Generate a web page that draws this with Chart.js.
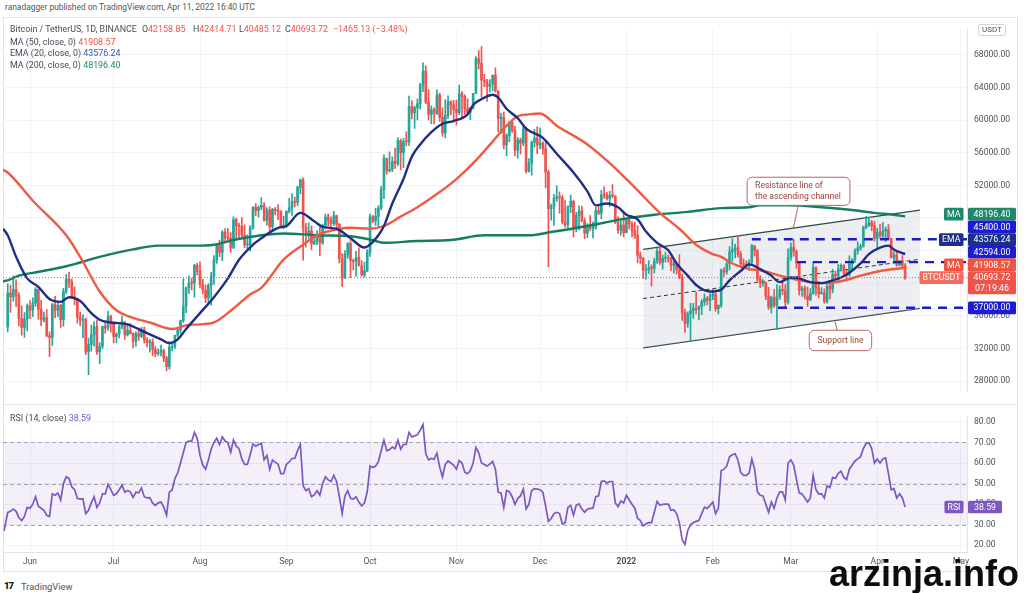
<!DOCTYPE html>
<html>
<head>
<meta charset="utf-8">
<script src="https://cdn.jsdelivr.net/npm/chart.js@4.4.1/dist/chart.umd.min.js"></script>
<style>
  html, body { margin: 0; padding: 0; background: #fff; }
  body { width: 1024px; height: 593px; position: relative; overflow: hidden; font-family: Roboto, "Noto Sans", sans-serif; }
  canvas { position: absolute; left: 3px; }
  #price { top: 17px; }
  #rsi { top: 404px; }
  .t { position: absolute; white-space: nowrap; font-size: 8.9px; line-height: 1; color: #484c57; z-index: 5; }
  .frame { position: absolute; left: 3px; top: 17px; width: 1015px; height: 555px; border: 1px solid #e0e3eb; box-sizing: border-box; }
  .sep { position: absolute; left: 3px; top: 404px; width: 1015px; height: 1px; background: #e0e3eb; }
  .wm { position: absolute; left: 829px; top: 553px; font: bold 36px "Liberation Sans", Arial, sans-serif; color: #0d0d0d; z-index: 6; }
</style>
</head>
<body>
<div class="frame"></div>
<div class="sep"></div>
<canvas id="price" width="1015" height="387"></canvas>
<canvas id="rsi" width="1015" height="168"></canvas>

<div class="t" style="left:5px;top:3px;font-size:8.4px;color:#555">ranadagger published on TradingView.com, Apr 11, 2022 16:40 UTC</div>
<div class="t" style="left:10px;top:25px">Bitcoin / TetherUS, 1D, BINANCE</div>
<div class="t" id="hO" style="left:142px;top:25px"></div>
<div class="t" id="hH" style="left:193px;top:25px"></div>
<div class="t" id="hL" style="left:239px;top:25px"></div>
<div class="t" id="hC" style="left:285px;top:25px"></div>
<div class="t" id="hChg" style="left:333px;top:25px;color:#ef5350"></div>
<div class="t" style="left:10px;top:37.5px">MA (50, close, 0) <span id="vMa50" style="color:#f0553f"></span></div>
<div class="t" style="left:10px;top:49px">EMA (20, close, 0) <span id="vEma" style="color:#3557b0"></span></div>
<div class="t" style="left:10px;top:61px">MA (200, close, 0) <span id="vMa200" style="color:#1f8c6c"></span></div>
<div class="t" style="left:10px;top:414px">RSI (14, close) <span id="vRsi" style="color:#7e57c2"></span></div>

<div class="t" style="left:4px;top:581px;font-size:9.5px;font-weight:900;color:#131722;letter-spacing:-1px">17</div>
<div class="t" style="left:21px;top:581.5px;font-size:9.4px;color:#50535e">TradingView</div>
<div class="wm">arzinja.info</div>

<script>
// BTCUSDT daily, 24 May 2021 (day 0) .. 11 Apr 2022 (day 322)
const firstOpen = 34655;
const closes = [
  38796, 38324, 39241, 38529, 35663, 34605, 35641, 37253,
  36693, 37568, 39246, 36829, 35513, 35796, 33552, 33380, 37388, 36675, 37313, 35546, 39020, 40516, 40144, 38349, 38092, 35820, 35483, 35600, 31608, 32509, 33678, 34663, 31584, 32283, 34700, 34494, 35911, 35045,
  33504, 33786, 34669, 35287, 33691, 34220, 33862, 32875, 33815, 33502, 34258, 33086, 32729, 32820, 31880, 31383, 31520, 31778, 30839, 29790, 32144, 32287, 33634, 34258, 35425, 37208, 39456, 40020, 40016, 42206, 41461,
  39845, 39147, 38207, 39723, 40862, 42836, 44614, 43792, 46284, 45579, 45511, 44399, 47800, 47068, 46973, 45901, 44695, 44705, 46760, 49339, 48905, 49321, 49546, 47706, 48960, 46942, 49058, 48902, 48806, 46991, 47112,
  48810, 49246, 49999, 49915, 51756, 52663, 46864, 46049, 46396, 44851, 45174, 46026, 44940, 47112, 48122, 47737, 47300, 48292, 47241, 42976, 40614, 43550, 44863, 42810, 42670, 43160, 42147, 41026, 41524, 43824,
  48141, 47634, 48200, 49224, 51471, 55315, 53785, 53951, 54949, 54659, 57471, 56006, 57367, 57347, 61672, 60875, 61528, 62009, 64280, 66002, 62193, 60688, 61286, 60852, 63078, 60329, 58413, 60575, 62253, 61859, 61300,
  60911, 63219, 62897, 61395, 60937, 61470, 63273, 67525, 66947, 64882, 64774, 64122, 64380, 65465, 63557, 60161, 60369, 56942, 58119, 59697, 58730, 56289, 57570, 57176, 58960, 53727, 54721, 57274, 57776, 56950,
  57184, 56480, 53601, 49152, 49396, 50441, 50588, 50471, 47545, 47140, 49389, 50053, 46702, 48343, 48864, 47632, 46131, 46834, 46681, 46915, 48896, 48588, 50838, 50820, 50400, 50775, 50701, 47543, 46464, 47120, 46216,
  47722, 47286, 46446, 45832, 43451, 43082, 41566, 41679, 41864, 41822, 42729, 43902, 42560, 43059, 43084, 43071, 42201, 42352, 41660, 40680, 36445, 35071, 36244, 36660, 36958, 36809, 37160, 37717, 38166, 37881, 38466,
  38690, 36896, 37311, 41574, 41382, 42380, 43840, 44118, 44338, 43565, 42407, 42244, 42197, 42586, 44575, 43961, 40538, 40030, 40122, 38431, 37075, 38286, 37296, 38332, 39214, 39105, 37699, 43160,
  44421, 43892, 42454, 39137, 39400, 38420, 37988, 38730, 41941, 39422, 38730, 38807, 37778, 39671, 39280, 41114, 40917, 41757, 42201, 41262, 41002, 42364, 42882, 43991, 44313, 44511, 46827, 47122, 47434, 47067, 45510,
  46283, 45811, 46407, 46580, 45497, 43170, 43445, 42252, 42753, 42158.85, 40693.72
];
const highs = [
  39920, 39791, 40900, 40411, 38856, 37234, 36400, 37499,
  37895, 38225, 39476, 39289, 37917, 36480, 36790, 34068, 37534, 38400, 37680, 37438, 39380, 41064, 41330, 40527, 39559, 38200, 36457, 36137, 35750, 33298, 34881, 35298, 35500, 32730, 34749, 35297, 36600, 36100,
  35036, 33939, 34909, 35950, 35293, 35059, 35069, 33929, 34100, 34262, 34592, 34678, 33340, 33114, 33185, 32249, 31935, 32435, 31899, 31063, 32858, 32578, 33650, 34500, 35500, 40550, 39542, 40900, 40640, 42316, 42448,
  42599, 40480, 39780, 39969, 41350, 43392, 44700, 45310, 46454, 46700, 46743, 46218, 48144, 48000, 47372, 48053, 47160, 45948, 47033, 49382, 49757, 49500, 50500, 49875, 49277, 49380, 49185, 49309, 49658, 48917, 48246,
  48888, 50400, 51000, 50558, 51900, 52780, 52920, 47340, 47400, 47033, 45988, 46460, 46880, 47250, 48475, 48486, 48150, 48811, 48363, 47328, 43639, 44000, 44978, 45200, 42966, 43919, 44350, 42787, 42590, 44132,
  48495, 48336, 49228, 49536, 51886, 55750, 55332, 56100, 55489, 56561, 57839, 57680, 57750, 58550, 62933, 62378, 61718, 62614, 64486, 67000, 66639, 63732, 61747, 61500, 63710, 63293, 61496, 62499, 62980, 62359, 62405,
  62437, 64270, 63500, 63086, 62595, 61560, 63286, 67789, 68524, 69000, 65600, 65000, 64972, 65550, 66401, 63617, 60840, 60976, 58351, 59845, 60000, 59266, 57875, 57800, 59398, 59150, 55280, 57445, 58865, 59176,
  59053, 57375, 57600, 53869, 49700, 50891, 51936, 51200, 50797, 50125, 49485, 50797, 50189, 48700, 49500, 49436, 47995, 47315, 48300, 47537, 49328, 49576, 51375, 51810, 51156, 51280, 52088, 50704, 48139, 47900, 48548,
  47954, 47990, 47570, 47505, 47070, 43816, 43145, 42300, 42786, 42248, 43100, 44322, 44500, 43448, 43800, 43478, 43180, 42691, 42559, 43505, 41100, 36835, 36499, 37550, 37545, 38919, 37234, 38000, 38720, 38359, 38744,
  39265, 38855, 37387, 41772, 41913, 42656, 44500, 45492, 44799, 45821, 43920, 43000, 42760, 42876, 44769, 44584, 44164, 40959, 40444, 40146, 39494, 38429, 39249, 39843, 39683, 40295, 39855, 44225,
  44949, 45400, 44102, 42527, 39613, 39693, 39547, 39362, 42594, 42039, 40236, 39486, 39310, 39947, 39887, 41718, 41478, 42325, 42400, 42300, 41544, 43361, 43025, 44220, 45094, 44820, 46999, 48190, 48096, 47700, 47600,
  46720, 47213, 47444, 46890, 47200, 45507, 43900, 43970, 42800, 43410, 42414.71
];
const lows = [
  34031, 36419, 37800, 37134, 34779, 33632, 33379, 34153,
  35666, 35920, 37170, 35567, 34800, 35258, 33417, 31000, 32396, 35787, 35936, 34600, 34757, 38730, 39506, 38116, 37365, 35129, 34803, 33336, 31251, 28805, 31683, 32286, 31275, 30151, 32000, 33862, 34225, 34017,
  32711, 32700, 33300, 34400, 33125, 33533, 33770, 32077, 32261, 33005, 33330, 32658, 32202, 31550, 31133, 31020, 31176, 31108, 30407, 29278, 29482, 31708, 32000, 33401, 33851, 35205, 36383, 38772, 39200, 38313, 41000,
  39422, 38690, 37642, 37508, 37332, 39853, 42446, 43261, 42780, 44962, 45341, 43770, 44250, 45560, 45500, 45660, 44376, 44203, 43955, 46622, 48285, 48108, 49034, 47600, 47136, 46288, 46360, 48371, 47800, 46781, 46700,
  46853, 48584, 48316, 49370, 49500, 50969, 42843, 44412, 45513, 44132, 44722, 44743, 43370, 44750, 46670, 47016, 46699, 47046, 46829, 42500, 39600, 40565, 43069, 40675, 41646, 40829, 42098, 40888, 40753, 41410,
  43283, 47430, 47088, 46891, 49000, 50382, 53357, 53617, 53661, 54081, 54415, 53879, 54167, 56818, 56850, 60150, 58963, 60012, 61322, 63481, 62000, 60000, 59562, 59510, 60650, 59817, 58000, 57820, 60174, 60673, 59945,
  59405, 60624, 60382, 60677, 60721, 60050, 61322, 63273, 66222, 62822, 64100, 62278, 63400, 63577, 63400, 58574, 58373, 56474, 55600, 57353, 58486, 55610, 55317, 55837, 56856, 53500, 53610, 53256, 56666, 55875,
  56458, 55777, 51680, 42000, 47727, 47100, 50039, 48600, 47320, 46852, 46751, 48638, 45672, 46290, 46547, 47511, 45456, 45598, 46406, 45558, 46630, 48421, 47920, 50384, 50171, 49412, 50449, 47313, 46096, 45900, 45678,
  46208, 46654, 45696, 45502, 42500, 42430, 40610, 40501, 41200, 39650, 41268, 42450, 42311, 41725, 42578, 42581, 41540, 41250, 41138, 40553, 35440, 34008, 34601, 32917, 35701, 36234, 35507, 36155, 37268, 37351, 36632,
  38000, 36586, 36250, 37052, 40843, 41116, 41645, 42666, 43117, 43187, 41938, 41766, 41870, 41570, 42427, 43310, 40073, 39450, 39639, 38000, 36800, 36350, 37036, 34322, 38014, 38600, 37000, 37450,
  42809, 43334, 41832, 38550, 38407, 38088, 37155, 37867, 38656, 38539, 38224, 38660, 37578, 37555, 38098, 38828, 40500, 40135, 41500, 40911, 40467, 40875, 41751, 42566, 43579, 44072, 44421, 46663, 46950, 46445, 45200,
  44200, 45620, 45530, 45118, 45353, 43121, 42727, 42107, 42125, 41868, 40485.12
];

// indicator lines: [day, value]
const ma50Pts = [[-1.7,53900],[0,53570],[9,50120],[21,45880],[26,43240],[33,38990],[39,36690],[45,35770],[51,35200],[59,34400],[64,34850],[69,34970],[74,35200],[81,36920],[87,38640],[91,39450],[99,42890],[106,44730],[111,45880],[119,46680],[123,46800],[130,46680],[135,47020],[141,48170],[147,49320],[154,50930],[161,52770],[168,55060],[174,57360],[179,59310],[183,60460],[187,60690],[191,60800],[197,59310],[208,57010],[216,54720],[224,52080],[234,48630],[241,46680],[247,44730],[253,43580],[256,43240],[260,42430],[266,41740],[270,41600],[277,40940],[284,40370],[292,40020],[299,40250],[306,40940],[313,41510],[322,41908.57]];
const ema20Pts = [[-1.7,46700],[0,45880],[3,43240],[7,40600],[11,39560],[15,38070],[19,37730],[22,38300],[26,37840],[30,36350],[33,35540],[37,35200],[43,34970],[49,34050],[55,33130],[58,32670],[61,33130],[64,34400],[69,36350],[74,38300],[79,40600],[83,42890],[88,44730],[91,45530],[97,46800],[100,47020],[105,48630],[110,47600],[113,46910],[118,46680],[123,45530],[128,44380],[130,44730],[133,45880],[135,47020],[138,49780],[142,52770],[145,55520],[148,57010],[152,58510],[156,59540],[160,59880],[165,60690],[167,61840],[171,62750],[174,63100],[176,62750],[179,61380],[183,60230],[186,58960],[192,57820],[197,55870],[203,53570],[208,51270],[211,49550],[215,49780],[219,49320],[222,48400],[226,47830],[229,46340],[233,44960],[237,44040],[240,42430],[244,40940],[247,39790],[252,38990],[256,39220],[259,40370],[263,41510],[266,42320],[270,41740],[274,40940],[277,40140],[281,40710],[284,40600],[288,40140],[292,40020],[295,40250],[299,40710],[302,41280],[306,42430],[309,43580],[313,44380],[316,44610],[318,44150],[320,43810],[322,43576.24]];
const ma200Pts = [[-1.7,40250],[0,40370],[4,40940],[9,41280],[21,42090],[33,43240],[45,44150],[54,44610],[67,44610],[74,44730],[81,45300],[91,45880],[99,46110],[111,45880],[123,45760],[131,45300],[135,44960],[147,45190],[159,45300],[171,45880],[187,45880],[196,46340],[208,47020],[220,47830],[232,48400],[244,48750],[256,49210],[266,49320],[270,49550],[280,49550],[292,49320],[303,48980],[311,48630],[318,48400],[322,48196.40]];
const rsiPts = [[-1.3,27],[0,36],[1,36.5],[2,37.6],[3,36.5],[4,33.5],[5,32],[6,34],[7,38.4],[8,38],[9,40],[10,43.6],[11,39],[12,38],[13,37],[14,34.6],[15,34],[16,45],[17,44.3],[18,45.4],[19,42],[20,50],[21,53.3],[22,52.5],[23,48.4],[24,47],[25,42.8],[26,42.4],[27,42.5],[28,35.4],[29,37],[30,40.6],[31,43.6],[32,38.4],[33,40.6],[34,45],[35,45],[36,49.6],[37,47],[38,44.3],[39,45],[40,47],[41,49.3],[42,45.8],[43,46.6],[44,46],[45,43.3],[46,45.8],[47,45.5],[48,47.8],[49,43.6],[50,43],[51,43.1],[52,40.5],[53,39.4],[54,40.6],[55,41],[56,38.5],[57,34.6],[58,45.8],[59,46.9],[60,52.5],[61,55.2],[62,60],[63,65],[64,70],[65,70.7],[66,70.5],[67,74.9],[68,71.9],[69,63.7],[70,59],[71,57],[72,61.5],[73,66.7],[74,70],[75,72],[76,69],[77,72.7],[78,70.7],[79,70],[80,65.2],[81,71.2],[82,68.2],[83,67],[84,62],[85,59.3],[86,59.3],[87,64],[88,69.3],[89,68.2],[90,69],[91,69.5],[92,61.5],[93,63.7],[94,57],[95,61.5],[96,60.3],[97,59.5],[98,54.8],[99,54.8],[100,59.3],[101,60.5],[102,62.2],[103,62.2],[104,66],[105,69],[106,48.8],[107,46.6],[108,47.5],[109,43.6],[110,44.5],[111,46.6],[112,44.3],[113,50],[114,53.3],[115,51.8],[116,51],[117,54],[118,51],[119,43.6],[120,35.4],[121,44],[122,46.6],[123,42.8],[124,42.5],[125,43.6],[126,41],[127,39.1],[128,40.6],[129,46],[130,58.5],[131,57.8],[132,58.5],[133,60.7],[134,66],[135,71.2],[136,66],[137,66.5],[138,67.8],[139,67],[140,71.2],[141,66.7],[142,69],[143,69],[144,74.9],[145,72.7],[146,73.2],[147,73.7],[148,76],[149,78.7],[150,64.5],[151,61.5],[152,62.2],[153,61.8],[154,64.8],[155,58],[156,53.3],[157,59.3],[158,61],[159,60],[160,59],[161,57],[162,61.2],[163,60],[164,55.5],[165,54.8],[166,56.3],[167,60],[168,67.5],[169,65],[170,60],[171,59.3],[172,58.5],[173,59.5],[174,60.7],[175,57],[176,45.8],[177,45.4],[178,38.4],[179,46.6],[180,46],[181,43.6],[182,39.9],[183,42.8],[184,44],[185,47.3],[186,37.6],[187,39.9],[188,46.6],[189,47.5],[190,47.3],[191,47],[192,45.8],[193,39.1],[194,31.6],[195,33],[196,35.4],[197,36],[198,35.4],[199,30.4],[200,30.9],[201,38.4],[202,39.4],[203,34.6],[204,39.5],[205,40.1],[206,37.6],[207,36.1],[208,37.5],[209,37.9],[210,38],[211,43.6],[212,44],[213,51],[214,51.3],[215,50.3],[216,51],[217,51],[218,40.6],[219,38.8],[220,41.5],[221,40.6],[222,44.3],[223,42],[224,39.9],[225,38],[226,33.1],[227,32],[228,29.4],[229,30.4],[230,31],[231,31],[232,36],[233,41.3],[234,39.4],[235,39.9],[236,40],[237,40],[238,37],[239,37.3],[240,35.4],[241,31],[242,22.7],[243,20.4],[244,27.2],[245,30],[246,31],[247,31.6],[248,32],[249,35.4],[250,38.5],[251,37.9],[252,39.4],[253,41],[254,35.4],[255,38],[256,56.3],[257,57],[258,58.5],[259,63],[260,64],[261,64.5],[262,61.5],[263,55.5],[264,54],[265,54],[266,55],[267,62],[268,57],[269,46],[270,44.3],[271,44],[272,40],[273,36],[274,41],[275,38],[276,43],[277,46],[278,46],[279,42],[280,60],[281,61.5],[282,59],[283,52],[284,45.5],[285,45],[286,43],[287,41],[288,43],[289,54],[290,47],[291,45],[292,45],[293,43],[294,49],[295,48],[296,53],[297,52.5],[298,55],[299,56],[300,53],[301,52],[302,57],[303,59],[304,61],[305,62],[306,63],[307,67],[308,69.5],[309,70],[310,67],[311,60],[312,62],[313,60],[314,62],[315,62.5],[316,55],[317,47],[318,47.5],[319,43],[320,45],[321,43],[322,38.59]];

// drawings
const channelTop = [[228,44154],[327.3,48976]];
const channelBottom = [[228,32098],[327.3,36921]];
const channelMid = [[228,38126],[327.3,42949]];
const levels = [45400, 42594, 37000];
const levelStarts = [267, 283.2, 276.4];

const priceTicks = [28000, 32000, 36000, 40000, 44000, 48000, 52000, 56000, 60000, 64000, 68000];
const rsiTicks = [20, 30, 40, 50, 60, 70, 80];
const monthTicks = [8, 38, 69, 100, 130, 161, 191, 222, 253, 281, 312, 342];
const monthLabels = ['Jun', 'Jul', 'Aug', 'Sep', 'Oct', 'Nov', 'Dec', '2022', 'Feb', 'Mar', 'Apr', 'May'];

const X_MIN = -1.69, X_MAX = 344.2;
const UP = '#26a69a', DOWN = '#ef5350';

Chart.defaults.font.family = 'Roboto';

const opens = closes.map((c, i) => i ? closes[i - 1] : firstOpen);
const colors = closes.map((c, i) => c >= opens[i] ? UP : DOWN);
const last = closes.length - 1;
const lastClose = closes[last];
const pts = a => a.map(p => ({x: p[0], y: p[1]}));

// header texts
const f2 = v => v.toFixed(2);
const chg = lastClose - opens[last];
document.getElementById('hO').innerHTML = 'O<span style="color:#ef5350">' + f2(opens[last]) + '</span>';
document.getElementById('hH').innerHTML = 'H<span style="color:#ef5350">' + f2(highs[last]) + '</span>';
document.getElementById('hL').innerHTML = 'L<span style="color:#ef5350">' + f2(lows[last]) + '</span>';
document.getElementById('hC').innerHTML = 'C<span style="color:#ef5350">' + f2(lastClose) + '</span>';
document.getElementById('hChg').textContent = '\u2212' + f2(Math.abs(chg)) + ' (\u2212' + f2(Math.abs(chg / opens[last] * 100)) + '%)';
document.getElementById('vMa50').textContent = f2(ma50Pts[ma50Pts.length - 1][1]);
document.getElementById('vEma').textContent = f2(ema20Pts[ema20Pts.length - 1][1]);
document.getElementById('vMa200').textContent = f2(ma200Pts[ma200Pts.length - 1][1]);
document.getElementById('vRsi').textContent = f2(rsiPts[rsiPts.length - 1][1]);

function roundRect(ctx, x, y, w, h, r) {
  ctx.beginPath();
  ctx.moveTo(x + r, y);
  ctx.arcTo(x + w, y, x + w, y + h, r);
  ctx.arcTo(x + w, y + h, x, y + h, r);
  ctx.arcTo(x, y + h, x, y, r);
  ctx.arcTo(x, y, x + w, y, r);
  ctx.closePath();
}

function axisBox(ctx, area, cy, h, text, sub, bg, tag, tagBg, w) {
  const x0 = area.right + 1;
  ctx.fillStyle = bg;
  roundRect(ctx, x0, cy - 6.35, w, h, 1.5);
  ctx.fill();
  ctx.fillStyle = '#fff';
  ctx.textAlign = 'center';
  ctx.textBaseline = 'middle';
  ctx.font = '8.8px Roboto';
  ctx.fillText(text, x0 + w / 2, cy + 0.5);
  if (sub) ctx.fillText(sub, x0 + w / 2, cy + 11.5);
  if (tag) {
    const tw = ctx.measureText(tag).width + 6;
    ctx.fillStyle = tagBg;
    roundRect(ctx, area.right - 3.5 - tw, cy - 6.35, tw, 12.7, 1.5);
    ctx.fill();
    ctx.fillStyle = '#fff';
    ctx.fillText(tag, area.right - 3.5 - tw / 2, cy + 0.5);
  }
}

const callouts = [
  {lines: ['Resistance line of', 'the ascending channel'], box: [265.3, 52994, 302.2, 49550], from: [283.7, 49550], to: [281.9, 46800], align: 'left'},
  {lines: ['Support line'], box: [287.6, 34246, 310.0, 31745], from: [297.6, 34246], to: [296.8, 35314], align: 'center'}
];

const mainDecor = {
  id: 'mainDecor',
  afterDraw(chart) {
    const {ctx, chartArea: a, scales: {x, y}} = chart;
    ctx.save();
    // callouts
    callouts.forEach(c => {
      const l = x.getPixelForValue(c.box[0]), t = y.getPixelForValue(c.box[1]);
      const r = x.getPixelForValue(c.box[2]), b = y.getPixelForValue(c.box[3]);
      ctx.strokeStyle = '#b8675b';
      ctx.lineWidth = 1;
      ctx.beginPath();
      ctx.moveTo(x.getPixelForValue(c.from[0]), y.getPixelForValue(c.from[1]));
      ctx.lineTo(x.getPixelForValue(c.to[0]), y.getPixelForValue(c.to[1]));
      ctx.stroke();
      roundRect(ctx, l, t, r - l, b - t, 5);
      ctx.fillStyle = '#fff';
      ctx.fill();
      ctx.stroke();
      ctx.fillStyle = '#9a4336';
      ctx.font = '8.6px Roboto';
      ctx.textBaseline = 'middle';
      ctx.textAlign = c.align;
      const cy = (t + b) / 2, n = c.lines.length;
      c.lines.forEach((s, i) => {
        const ly = cy + (i - (n - 1) / 2) * 11;
        ctx.fillText(s, c.align === 'left' ? l + 8 : (l + r) / 2, ly);
      });
    });
    // price axis labels, pushed up where they would overlap
    const tags = [
      {v: ma200Pts[ma200Pts.length - 1][1], bg: '#1e8a69', tag: 'MA'},
      {v: levels[0], bg: '#1c1cd3'},
      {v: ema20Pts[ema20Pts.length - 1][1], bg: '#1d2f86', tag: 'EMA'},
      {v: levels[1], bg: '#1c1cd3'},
      {v: ma50Pts[ma50Pts.length - 1][1], bg: '#f0553f', tag: 'MA'},
      {v: lastClose, bg: '#f05448', tag: 'BTCUSDT', tagBg: '#f26b5c', sub: '07:19:46', h: 23},
      {v: levels[2], bg: '#1c1cd3'}
    ];
    let nextTop = Infinity;
    for (let i = tags.length - 1; i >= 0; i--) {
      const tg = tags[i];
      tg.h = tg.h || 12.7;
      let cy = y.getPixelForValue(tg.v);
      if (cy - 6.35 + tg.h > nextTop) cy = nextTop - tg.h + 6.35;
      tg.cy = cy;
      nextTop = cy - 6.35;
    }
    tags.forEach(tg => axisBox(ctx, a, tg.cy, tg.h, f2(tg.v), tg.sub, tg.bg, tg.tag, tg.tagBg || tg.bg, 48));
    // currency box
    ctx.fillStyle = '#fff';
    ctx.strokeStyle = '#d1d4dc';
    roundRect(ctx, a.right + 11.5, 7.5, 27, 11, 2);
    ctx.fill();
    ctx.stroke();
    ctx.fillStyle = '#50535e';
    ctx.font = '8px Roboto';
    ctx.textAlign = 'center';
    ctx.textBaseline = 'middle';
    ctx.fillText('USDT', a.right + 25, 13.3);
    ctx.restore();
  }
};

const lineDs = (data, color, width, order, extra) => Object.assign({
  type: 'line', data: pts(data), borderColor: color, borderWidth: width,
  pointRadius: 0, fill: false, order: order, cubicInterpolationMode: 'monotone'
}, extra || {});

const priceDatasets = [
  lineDs(channelTop, '#2d4a47', 1.3, 30, {fill: '+1', backgroundColor: 'rgba(188,194,205,0.27)'}),
  lineDs(channelBottom, '#2d4a47', 1.3, 30),
  lineDs(channelMid, '#333', 1, 29, {borderDash: [4, 3]}),
  {type: 'bar', data: closes.map((c, i) => ({x: i, y: [lows[i], highs[i]]})), backgroundColor: colors, barThickness: 1, grouped: false, order: 20},
  {type: 'bar', data: closes.map((c, i) => ({x: i, y: [opens[i], c]})), backgroundColor: colors, barThickness: 2, minBarLength: 1, grouped: false, order: 19},
  lineDs(ma200Pts, '#157d62', 2.4, 8),
  lineDs(ma50Pts, '#ee5b43', 2.4, 7),
  lineDs(ema20Pts, '#1f2f86', 2.4, 6)
];
levels.forEach((lv, i) => priceDatasets.push(lineDs([[levelStarts[i], lv], [X_MAX, lv]], '#1c1cc8', 2.4, 3, {borderDash: [9, 7]})));
priceDatasets.push(lineDs([[X_MIN, lastClose], [X_MAX, lastClose]], '#ef5350', 1, 2, {borderDash: [1, 2]}));

const gridColor = '#f0f2f6';
const xScale = (showLabels) => ({
  type: 'linear', min: X_MIN, max: X_MAX, offset: false,
  afterBuildTicks: s => { s.ticks = monthTicks.map(v => ({value: v})); },
  afterFit: s => { s.height = showLabels ? 20 : 0; },
  ticks: {
    display: showLabels, autoSkip: false, maxRotation: 0, padding: 5, color: '#50535e',
    font: ctx => ({family: 'Roboto', size: 8.6, weight: ctx.tick && ctx.tick.value === 222 ? 'bold' : 'normal'}),
    callback: v => monthLabels[monthTicks.indexOf(v)]
  },
  grid: {color: gridColor, drawTicks: false, offset: false},
  border: {display: showLabels, color: '#e0e3eb'}
});

new Chart(document.getElementById('price'), {
  type: 'bar',
  data: {datasets: priceDatasets},
  plugins: [mainDecor],
  options: {
    responsive: false, animation: false, events: [],
    layout: {padding: 0},
    plugins: {legend: {display: false}, tooltip: {enabled: false}},
    scales: {
      x: xScale(false),
      y: {
        position: 'right', min: 26703, max: 71134,
        afterBuildTicks: s => { s.ticks = priceTicks.map(v => ({value: v})); },
        afterFit: s => { s.width = 51; },
        ticks: {padding: 7, color: '#50535e', font: {size: 8.6}, callback: v => f2(v)},
        grid: {color: gridColor, drawTicks: false},
        border: {display: true, color: '#e0e3eb'}
      }
    }
  }
});

const rsiDecor = {
  id: 'rsiDecor',
  beforeDatasetsDraw(chart) {
    const {ctx, chartArea: a, scales: {y}} = chart;
    ctx.save();
    ctx.fillStyle = 'rgba(126,87,194,0.09)';
    const y70 = y.getPixelForValue(70), y30 = y.getPixelForValue(30);
    ctx.fillRect(a.left, y70, a.right - a.left, y30 - y70);
    ctx.strokeStyle = '#a3a6af';
    ctx.lineWidth = 1;
    ctx.setLineDash([4, 3]);
    [70, 50, 30].forEach(v => {
      const py = Math.round(y.getPixelForValue(v)) + 0.5;
      ctx.beginPath();
      ctx.moveTo(a.left, py);
      ctx.lineTo(a.right, py);
      ctx.stroke();
    });
    ctx.restore();
  },
  afterDraw(chart) {
    const {ctx, chartArea: a, scales: {y}} = chart;
    const v = rsiPts[rsiPts.length - 1][1];
    ctx.save();
    axisBox(ctx, a, y.getPixelForValue(v), 12.7, f2(v), null, '#7e57c2', 'RSI', '#7e57c2', 34);
    ctx.restore();
  }
};

new Chart(document.getElementById('rsi'), {
  type: 'line',
  data: {datasets: [{data: pts(rsiPts), borderColor: '#7e57c2', borderWidth: 1.7, pointRadius: 0, fill: false, tension: 0}]},
  plugins: [rsiDecor],
  options: {
    responsive: false, animation: false, events: [],
    layout: {padding: 0},
    plugins: {legend: {display: false}, tooltip: {enabled: false}},
    scales: {
      x: xScale(true),
      y: {
        position: 'right', min: 16.7, max: 82.8,
        afterBuildTicks: s => { s.ticks = rsiTicks.map(v => ({value: v})); },
        afterFit: s => { s.width = 51; },
        ticks: {padding: 7, color: '#50535e', font: {size: 8.6}, callback: v => f2(v)},
        grid: {color: gridColor, drawTicks: false},
        border: {display: true, color: '#e0e3eb'}
      }
    }
  }
});
</script>
</body>
</html>
